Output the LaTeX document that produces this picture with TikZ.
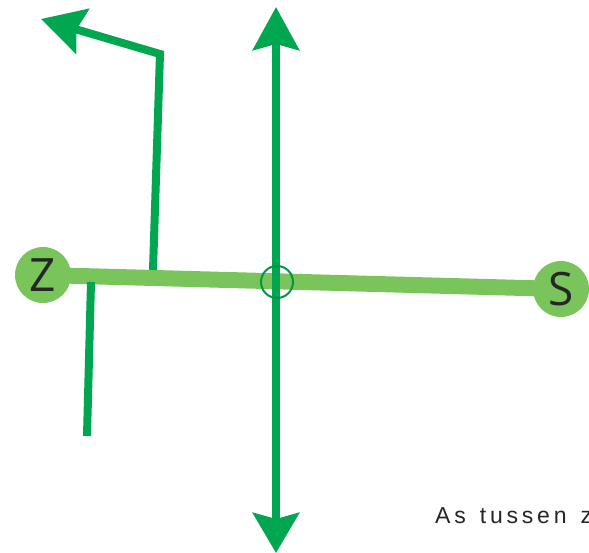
\documentclass[tikz,border=0pt]{standalone}
\usepackage{fontspec}
\setmainfont{Liberation Sans}
\newfontfamily\lblfont{Open Sans}
\usetikzlibrary{arrows.meta}
\definecolor{barGreen}{RGB}{122,196,92}
\definecolor{arrGreen}{RGB}{0,166,80}
\definecolor{ringGreen}{RGB}{0,150,72}
\tikzset{
  pole/.style={circle, fill=barGreen, minimum size=56pt, inner sep=0pt, font=\lblfont\fontsize{46}{46}\selectfont, text=black!85},
  axisbar/.style={barGreen, line width=16pt},
  greenline/.style={arrGreen, line width=8pt},
  bigtip/.style={-{Stealth[length=43pt,width=46pt,inset=6pt]}},
}
\begin{document}
\begin{tikzpicture}[x=1pt,y=-1pt]
\useasboundingbox (0,0) rectangle (589,553);
% coordinates
\coordinate (zc) at (43,275);
\coordinate (sc) at (561,289);
\coordinate (top) at (276,7);
\coordinate (bot) at (276,553);
\coordinate (b0) at (153,270);
\coordinate (b1) at (160,54);
\coordinate (b2) at (41,19);
\coordinate (l0) at (91,282);
\coordinate (l1) at (87,436);
% bar
\draw[axisbar] (zc) -- (sc);
% poles
\node[pole] (Z) at (zc) {Z};
\node[pole] (S) at (sc) {S};
% lines
\draw[greenline, line join=miter, bigtip] (b0) -- (b1) -- (b2);
\draw[greenline] (l0) -- (l1);
\draw[greenline, {Stealth[length=40pt,width=46pt,inset=6pt]}-{Stealth[length=43pt,width=46pt,inset=6pt]}] (bot) -- (top);
% intersection ring
\node[circle, draw=ringGreen, line width=2pt, minimum size=32pt, inner sep=0pt] (o) at (277,282) {};
% caption
\node[anchor=base west, inner sep=0pt, text=black!85, font=\fontsize{23}{23}\selectfont] (cap) at (435,523)
  {A\kern3.8pt s\kern3.8pt\ \kern3.8pt t\kern3.8pt u\kern3.8pt s\kern3.8pt s\kern3.8pt e\kern3.8pt n\kern3.8pt\ \kern3.8pt z};
\end{tikzpicture}
\end{document}
